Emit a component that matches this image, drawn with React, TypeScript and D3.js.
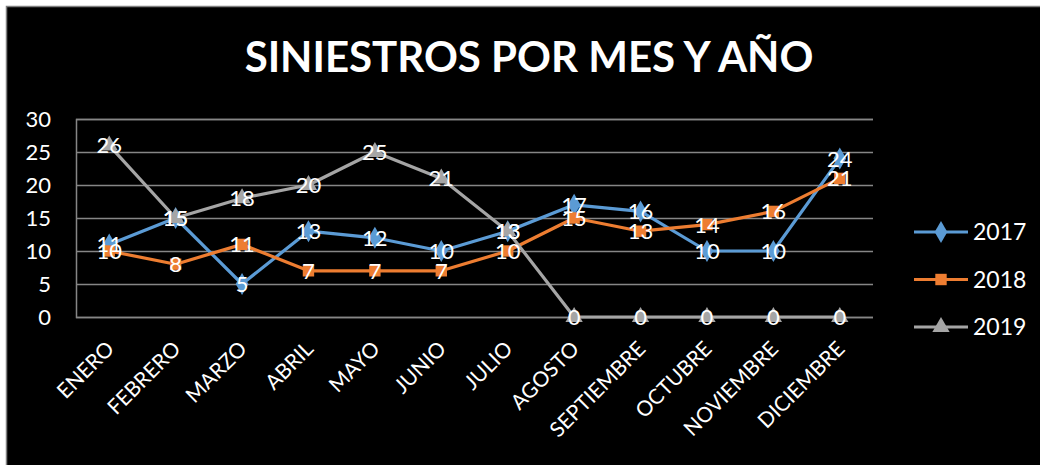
import { useEffect, useRef } from 'react';
import * as d3 from 'd3';

const months = ['ENERO', 'FEBRERO', 'MARZO', 'ABRIL', 'MAYO', 'JUNIO', 'JULIO', 'AGOSTO', 'SEPTIEMBRE', 'OCTUBRE', 'NOVIEMBRE', 'DICIEMBRE'];
const years = ['2017', '2018', '2019'];
const values2017 = [11, 15, 5, 13, 12, 10, 13, 17, 16, 10, 10, 24];
const values2018 = [10, 8, 11, 7, 7, 7, 10, 15, 13, 14, 16, 21];
const values2019 = [26, 15, 18, 20, 25, 21, 13, 0, 0, 0, 0, 0];
const yTicks = [0, 5, 10, 15, 20, 25, 30];

const colors = ['#5B9BD5', '#ED7D31', '#A5A5A5'];
const symbols = [d3.symbolDiamond, d3.symbolSquare, d3.symbolTriangle];

const width = 1040;
const height = 465;
const font = 'Lato, "Open Sans", sans-serif';

export default function App() {
  const svgRef = useRef<SVGSVGElement>(null);

  useEffect(() => {
    if (!svgRef.current) return;
    const svg = d3.select(svgRef.current);
    svg.selectAll('*').remove();

    // background + frame
    svg.append('rect').attr('width', width).attr('height', height).attr('fill', '#fff');
    svg.append('rect')
      .attr('x', 6.5).attr('y', 6.5)
      .attr('width', width).attr('height', height)
      .attr('fill', '#000')
      .attr('stroke', '#7f7f7f')
      .attr('stroke-width', 1.5);

    const left = 76, right = 873, top = 119, bottom = 317;
    const x = d3.scaleBand<string>().domain(months).range([left, right]);
    const y = d3.scaleLinear().domain([0, 30]).range([bottom, top]);
    const cx = (m: string) => (x(m) ?? 0) + x.bandwidth() / 2;

    // title
    svg.append('text')
      .attr('x', 529).attr('y', 72)
      .attr('text-anchor', 'middle')
      .style('font-family', font)
      .style('font-size', '42px')
      .style('font-weight', 'bold')
      .style('fill', '#fff')
      .text('SINIESTROS POR MES Y AÑO');

    // grid
    const grid = svg.append('g')
      .attr('transform', `translate(${left},0)`)
      .call(d3.axisLeft(y).tickValues(yTicks).tickSize(-(right - left)).tickFormat(() => ''));
    grid.select('.domain').attr('stroke', '#868686').attr('stroke-width', 1.5);
    grid.selectAll('line').attr('stroke', '#868686').attr('stroke-width', 1.5);

    // y tick labels
    svg.append('g')
      .selectAll('text')
      .data(yTicks)
      .join('text')
      .attr('x', 51)
      .attr('y', d => y(d))
      .attr('dy', '0.36em')
      .attr('text-anchor', 'end')
      .style('font-family', font)
      .style('font-size', '22px')
      .style('fill', '#fff')
      .text(d => d);

    // x labels
    svg.append('g')
      .selectAll('text')
      .data(months)
      .join('text')
      .attr('transform', d => `translate(${cx(d) + 1},${345}) rotate(-45)`)
      .attr('text-anchor', 'end')
      .attr('dy', '0.35em')
      .style('font-family', font)
      .style('font-size', '21px')
      .style('fill', '#fff')
      .text(d => d);

    const series = [values2017, values2018, values2019];
    const line = d3.line<number>().x((_, i) => cx(months[i])).y(d => y(d));

    series.forEach((vals, si) => {
      svg.append('path')
        .datum(vals)
        .attr('fill', 'none')
        .attr('stroke', colors[si])
        .attr('stroke-width', 3.2)
        .attr('stroke-linejoin', 'round')
        .attr('d', line);
    });

    series.forEach((vals, si) => {
      svg.append('g')
        .selectAll('path')
        .data(vals)
        .join('path')
        .attr('transform', (d, i) => `translate(${cx(months[i])},${y(d)})`)
        .attr('d', d3.symbol(symbols[si], si === 0 ? 140 : 130)())
        .attr('fill', colors[si]);
    });

    series.forEach(vals => {
      svg.append('g')
        .selectAll('text')
        .data(vals)
        .join('text')
        .attr('x', (_, i) => cx(months[i]))
        .attr('y', d => y(d))
        .attr('dy', '0.36em')
        .attr('text-anchor', 'middle')
        .style('font-family', font)
        .style('font-size', '22px')
        .style('fill', '#fff')
        .text(d => d);
    });

    // legend
    const legend = svg.append('g');
    years.forEach((yr, i) => {
      const ly = 232 + i * 47.5;
      const g = legend.append('g').attr('transform', `translate(0,${ly})`);
      g.append('line')
        .attr('x1', 914).attr('x2', 968)
        .attr('stroke', colors[i]).attr('stroke-width', 3.2);
      g.append('path')
        .attr('transform', 'translate(941,0)')
        .attr('d', d3.symbol(symbols[i], i === 0 ? 140 : 130)())
        .attr('fill', colors[i]);
      g.append('text')
        .attr('x', 973)
        .attr('dy', '0.36em')
        .style('font-family', font)
        .style('font-size', '23px')
        .style('fill', '#fff')
        .text(yr);
    });
  }, []);

  return (
    <svg
      ref={svgRef}
      width={width}
      height={height}
      viewBox={`0 0 ${width} ${height}`}
      style={{ position: 'absolute', left: 0, top: 0 }}
    />
  );
}
